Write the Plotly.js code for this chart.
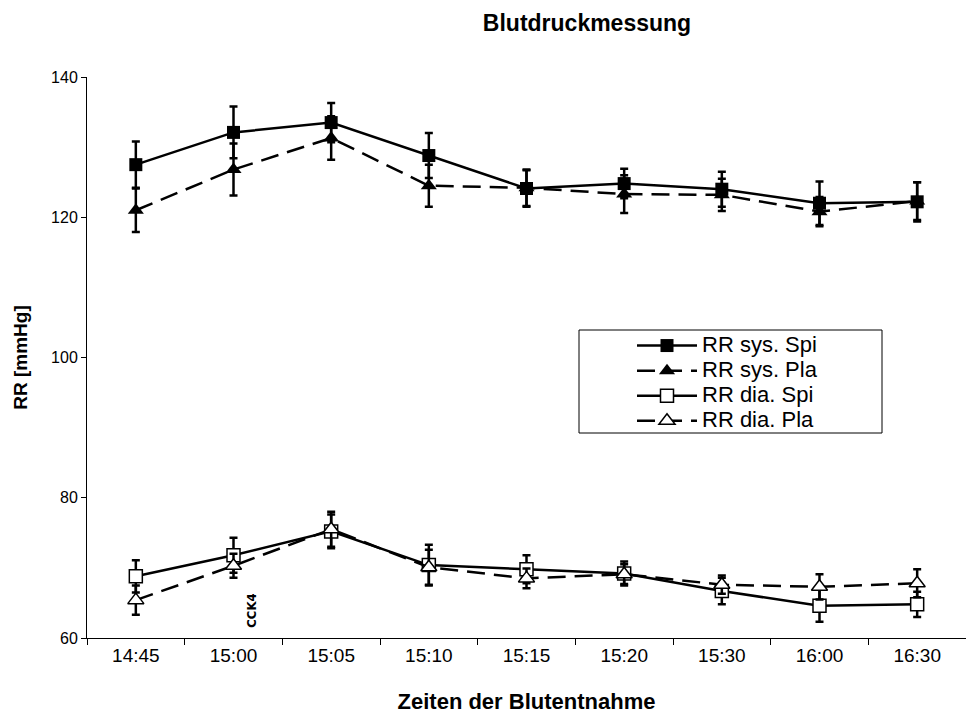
<!DOCTYPE html>
<html>
<head>
<meta charset="utf-8">
<script src="https://cdn.plot.ly/plotly-3.0.1.min.js"></script>
<style>html,body{margin:0;padding:0;background:#fff;}</style>
</head>
<body>
<div id="chart" style="width:966px;height:715px;"></div>
<script>
const times = ["14:45","15:00","15:05","15:10","15:15","15:20","15:30","16:00","16:30"];

const sysSpi    = [127.5, 132.1, 133.5, 128.8, 124.1, 124.8, 124.0, 122.0, 122.2];
const sysSpiErr = [3.3, 3.7, 2.8, 3.2, 2.6, 2.1, 2.5, 3.1, 2.8];

const sysPla    = [121.0, 126.8, 131.3, 124.5, 124.2, 123.3, 123.2, 120.8, 122.3];
const sysPlaErr = [3.1, 3.7, 3.1, 3.0, 2.6, 2.7, 2.3, 2.1, 2.7];

const diaSpi    = [68.8, 71.8, 75.2, 70.4, 69.8, 69.2, 66.7, 64.6, 64.8];
const diaSpiErr = [2.3, 2.5, 2.4, 2.9, 2.0, 1.7, 1.9, 2.3, 1.8];

const diaPla    = [65.4, 70.3, 75.5, 70.1, 68.5, 69.1, 67.6, 67.3, 67.8];
const diaPlaErr = [2.1, 1.7, 2.5, 2.5, 1.4, 1.4, 1.3, 1.8, 2.0];

const seriesNames = ["RR sys. Spi", "RR sys. Pla", "RR dia. Spi", "RR dia. Pla"];
const annotationText = "CCK4";

function errBar(arr) {
  return {type: 'data', array: arr, visible: true, color: '#000', thickness: 2.5, width: 4};
}
function legName(s) {
  return '<span style="font-size:22px">' + s + '</span>';
}

const traces = [
  {x: times, y: sysSpi, name: legName(seriesNames[0]), mode: 'lines+markers', type: 'scatter',
   line: {color: '#000', width: 2.5},
   marker: {symbol: 'square', size: 13, color: '#000'},
   error_y: errBar(sysSpiErr)},
  {x: times, y: sysPla, name: legName(seriesNames[1]), mode: 'lines+markers', type: 'scatter',
   line: {color: '#000', width: 2.5, dash: '18px,9px'},
   marker: {symbol: 'triangle-up', size: 14, color: '#000'},
   error_y: errBar(sysPlaErr)},
  {x: times, y: diaSpi, name: legName(seriesNames[2]), mode: 'lines+markers', type: 'scatter',
   line: {color: '#000', width: 2.5},
   marker: {symbol: 'square', size: 13, color: '#fff', line: {color: '#000', width: 1.5}},
   error_y: errBar(diaSpiErr)},
  {x: times, y: diaPla, name: legName(seriesNames[3]), mode: 'lines+markers', type: 'scatter',
   line: {color: '#000', width: 2.5, dash: '18px,9px'},
   marker: {symbol: 'triangle-up', size: 14, color: '#fff', line: {color: '#000', width: 1.5}},
   error_y: errBar(diaPlaErr)}
];

const layout = {
  width: 966, height: 715,
  margin: {l: 87, r: 0, t: 77, b: 77},
  paper_bgcolor: '#fff', plot_bgcolor: '#fff',
  font: {family: 'Arial, "Liberation Sans", sans-serif', color: '#000'},
  title: {text: '<b>Blutdruckmessung</b>', font: {size: 23, color: '#000'},
          x: 587/966, xanchor: 'center', xref: 'container', y: 1 - 23/715, yanchor: 'middle', yref: 'container'},
  showlegend: true,
  legend: {x: (632-87)/879, xanchor: 'left', y: (638-328)/561, yanchor: 'top',
           borderwidth: 0, bgcolor: 'rgba(0,0,0,0)',
           font: {size: 17, color: '#000'}, tracegroupgap: 0, itemwidth: 60},
  shapes: [{type: 'rect', xref: 'paper', yref: 'paper', layer: 'above',
            x0: (579-87)/879, x1: (882-87)/879, y0: (638-433)/561, y1: (638-330)/561,
            line: {color: '#000', width: 1}, fillcolor: '#fff'}],
  xaxis: {
    type: 'category', categoryorder: 'array', categoryarray: times,
    range: [-0.5, 8.5],
    showline: true, linecolor: '#000', linewidth: 1, mirror: false,
    showgrid: false, zeroline: false,
    ticks: 'outside', tickson: 'boundaries', ticklen: 6, tickcolor: '#000',
    tickfont: {size: 19},
    title: {text: '<b>Zeiten der Blutentnahme</b>', font: {size: 22}, standoff: 28}
  },
  yaxis: {
    range: [60, 140], tickvals: [60, 80, 100, 120, 140],
    showline: true, linecolor: '#000', linewidth: 1,
    showgrid: false, zeroline: false,
    ticks: 'outside', ticklen: 5, tickcolor: '#000',
    tickfont: {size: 16},
    title: {text: '<b>RR [mmHg]</b>', font: {size: 19}, standoff: 18}
  },
  annotations: [{
    x: 1.19, y: 63.9, xref: 'x', yref: 'y', text: '<b>' + annotationText + '</b>', showarrow: false,
    textangle: -90,
    font: {family: '"Liberation Sans Narrow", "Arial Narrow", "DejaVu Sans Condensed", sans-serif', size: 13, color: '#000'}
  }]
};

Plotly.newPlot('chart', traces, layout, {staticPlot: true, displayModeBar: false});
</script>
</body>
</html>
